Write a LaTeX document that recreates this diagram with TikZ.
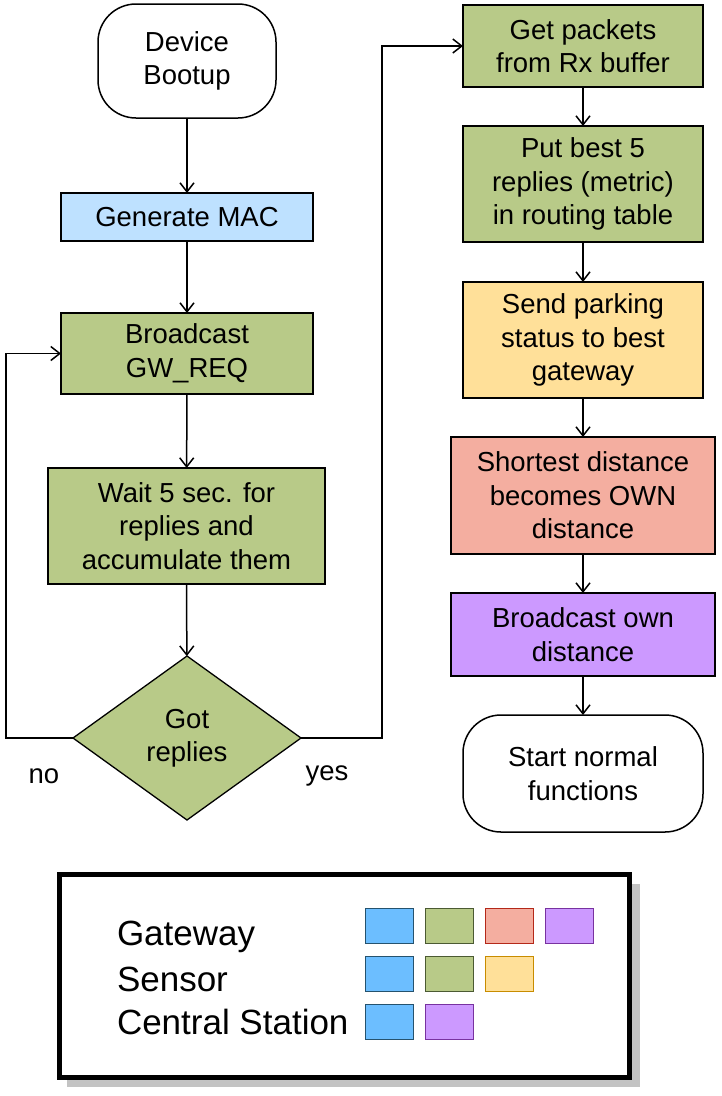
\documentclass[tikz,border=0pt]{standalone}
\usepackage{fontspec}
\setmainfont{Liberation Sans}
\usetikzlibrary{shapes.geometric, arrows.meta}

\definecolor{stepgreen}{RGB}{184,202,136}
\definecolor{stepblue}{RGB}{190,225,255}
\definecolor{stepyellow}{RGB}{255,224,153}
\definecolor{stepred}{RGB}{244,174,160}
\definecolor{steppurple}{RGB}{204,153,255}
\definecolor{keyblue}{RGB}{108,190,255}
\definecolor{keyblueline}{RGB}{37,82,110}
\definecolor{keygreenline}{RGB}{75,90,50}
\definecolor{keyredline}{RGB}{180,40,25}
\definecolor{keypurpleline}{RGB}{120,50,160}
\definecolor{keyyellowline}{RGB}{200,140,0}
\definecolor{shadowgray}{RGB}{195,195,195}

\begin{document}
\begin{tikzpicture}[x=1pt,y=-1pt,
  every node/.style={font=\fontsize{27.5}{33.5}\selectfont, align=center, inner sep=0pt, outer sep=0pt},
  stepbox/.style={rectangle, draw=black, line width=2pt},
  termbox/.style={rectangle, rounded corners=38pt, draw=black, line width=1.5pt, fill=white},
  arr/.style={line width=1.5pt, -{Straight Barb[length=9pt,width=14pt]}}]
\useasboundingbox (0,0) rectangle (721,1096);

% left column
\node[termbox, minimum width=178pt, minimum height=114pt] (boot) at (187,61) {Device\\Bootup};
\node[stepbox, fill=stepblue, minimum width=252pt, minimum height=48pt] (mac) at (187,217) {Generate MAC};
\node[stepbox, fill=stepgreen, minimum width=252pt, minimum height=81pt] (bcast) at (187,353.5) {Broadcast\\GW\_REQ};
\node[stepbox, fill=stepgreen, minimum width=277pt, minimum height=116pt] (wait) at (186.5,526) {Wait 5 sec. for\\replies and\\accumulate them};
\node[diamond, draw=black, line width=1.3pt, fill=stepgreen, aspect=1.39, minimum width=228pt, minimum height=164pt] (got) at (187,738) {Got\\replies};
\node (no) at (44,776) {no};
\node (yes) at (327,776) {yes};

% right column
\node[stepbox, fill=stepgreen, minimum width=240pt, minimum height=82pt] (pkt) at (583,46) {Get packets\\from Rx buffer};
\node[stepbox, fill=stepgreen, minimum width=240pt, minimum height=116pt] (best) at (583,184) {Put best 5\\replies (metric)\\in routing table};
\node[stepbox, fill=stepyellow, minimum width=240pt, minimum height=116pt] (send) at (583,340) {Send parking\\status to best\\gateway};
\node[stepbox, fill=stepred, minimum width=264pt, minimum height=117pt] (short) at (583,495.5) {Shortest distance\\becomes OWN\\distance};
\node[stepbox, fill=steppurple, minimum width=264pt, minimum height=83pt] (own) at (583,634.5) {Broadcast own\\distance};
\node[termbox, minimum width=240pt, minimum height=117pt] (start) at (583,773.5) {Start normal\\functions};

% connectors
\coordinate (noturn) at (6,738);
\coordinate (yesturn) at (382,738);
\draw[arr] (boot) -- (mac);
\draw[arr] (mac) -- (bcast);
\draw[arr] (bcast) -- (wait);
\draw[arr] (wait) -- (got);
\draw[arr] (got.west) -- (noturn) |- (bcast.west);
\draw[arr] (got.east) -- (yesturn) |- (pkt.west);
\draw[arr] (pkt) -- (best);
\draw[arr] (best) -- (send);
\draw[arr] (send) -- (short);
\draw[arr] (short) -- (own);
\draw[arr] (own) -- (start);

% legend
\fill[shadowgray] (67,884) rectangle (640,1087);
\draw[line width=5pt, fill=white] (59,874) rectangle (629.5,1077.5);
\node[anchor=west, font=\fontsize{35}{43}\selectfont] (gw) at (117,937) {Gateway};
\node[anchor=west, font=\fontsize{35}{43}\selectfont] (sn) at (117,979) {Sensor};
\node[anchor=west, font=\fontsize{35}{43}\selectfont] (cs) at (117,1022) {Central Station};
\filldraw[fill=keyblue, draw=keyblueline, line width=1.7pt] (365.5,908.5) rectangle (413.5,943.5);
\filldraw[fill=stepgreen, draw=keygreenline, line width=1.7pt] (425.5,908.5) rectangle (473.5,943.5);
\filldraw[fill=stepred, draw=keyredline, line width=1.7pt] (485.5,908.5) rectangle (533.5,943.5);
\filldraw[fill=steppurple, draw=keypurpleline, line width=1.7pt] (545.5,908.5) rectangle (593.5,943.5);
\filldraw[fill=keyblue, draw=keyblueline, line width=1.7pt] (365.5,956.5) rectangle (413.5,991.5);
\filldraw[fill=stepgreen, draw=keygreenline, line width=1.7pt] (425.5,956.5) rectangle (473.5,991.5);
\filldraw[fill=stepyellow, draw=keyyellowline, line width=1.7pt] (485.5,956.5) rectangle (533.5,991.5);
\filldraw[fill=keyblue, draw=keyblueline, line width=1.7pt] (365.5,1004.5) rectangle (413.5,1039.5);
\filldraw[fill=steppurple, draw=keypurpleline, line width=1.7pt] (425.5,1004.5) rectangle (473.5,1039.5);
\end{tikzpicture}
\end{document}
